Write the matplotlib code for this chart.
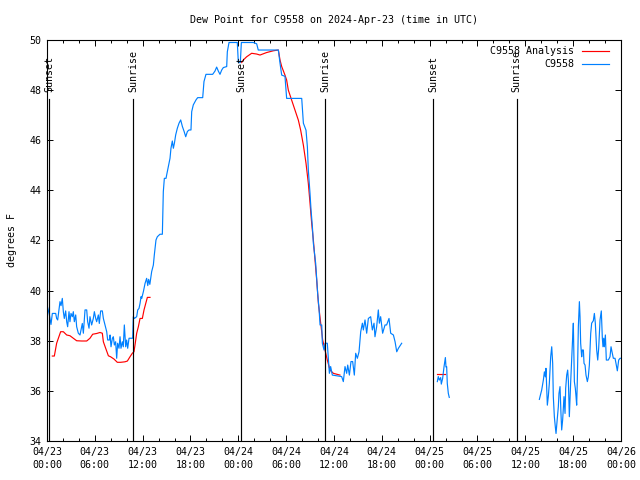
import numpy as np
import pandas as pd
import matplotlib
matplotlib.use("Agg")
from matplotlib import pyplot as plt
import matplotlib.dates as mdates

# hours after 2024-04-23 00:00 UTC, dew point in degrees F
obs1_h = [0.05, 0.29, 0.50, 0.67, 1.09, 1.21, 1.34, 1.50, 1.63, 1.76, 1.92, 2.05, 2.17, 2.34, 2.47, 2.59,
          2.76, 2.88, 3.01, 3.18, 3.30, 3.43, 3.60, 3.72, 3.93, 4.14, 4.27, 4.43, 4.56, 4.77, 4.98, 5.10,
          5.27, 5.39, 5.60, 5.81, 5.94, 6.11, 6.23, 6.44, 6.56, 6.73, 6.94, 7.07, 7.28, 7.49, 7.61, 7.82,
          7.91, 8.03, 8.20, 8.32, 8.45, 8.61, 8.74, 8.86, 9.03, 9.16, 9.28, 9.45, 9.57, 9.70, 9.87, 9.99,
          10.12, 10.29, 10.75, 10.83, 10.96, 11.25, 11.38, 11.54, 11.67, 11.80, 11.88, 12.09, 12.30, 12.50,
          12.64, 12.75, 12.90, 13.13, 13.34, 13.46, 13.67, 13.84, 14.17, 14.47, 14.59, 14.72, 14.93, 15.00,
          15.22, 15.43, 15.55, 15.72, 15.85, 15.98, 16.14, 16.35, 16.56, 16.77, 16.98, 17.20, 17.40, 17.61,
          17.82, 18.06, 18.15, 18.35, 18.69, 18.90, 19.53, 19.69, 19.94, 20.78, 21.07, 21.28, 21.49, 21.70,
          21.91, 22.12, 22.54, 22.62, 22.83, 23.87, 24.00, 24.25, 24.38, 25.88, 26.30, 26.50, 29.02, 29.23,
          29.44, 29.85, 30.06, 31.95, 32.16, 32.49, 32.66, 32.78, 32.99, 33.12, 33.29, 33.41, 33.53, 33.70,
          33.83, 33.95, 34.12, 34.25, 34.46, 34.54, 34.75, 34.87, 35.16, 35.29, 35.42, 35.58, 35.79, 36.96,
          37.17, 37.38, 37.59, 37.72, 37.93, 38.13, 38.34, 38.55, 38.72, 38.93, 39.14, 39.35, 39.56, 39.68,
          39.89, 40.10, 40.31, 40.60, 40.81, 41.02, 41.14, 41.35, 41.56, 41.69, 41.85, 42.10, 42.40, 42.60,
          42.90, 43.11, 43.45, 43.66, 43.87, 44.08, 44.29, 44.49]
obs1_v = [39.36, 39.05, 38.65, 39.09, 39.09, 38.89, 38.83, 39.23, 39.56, 39.40, 39.69, 39.16, 38.89, 39.19, 38.76, 38.56,
          39.16, 38.76, 39.09, 38.96, 39.16, 38.76, 39.03, 38.56, 38.30, 38.23, 38.43, 38.69, 38.30, 39.23, 39.23, 38.76,
          38.50, 38.96, 38.63, 38.89, 39.16, 38.89, 38.76, 39.03, 38.69, 39.19, 39.19, 38.89, 38.63, 38.36, 38.03, 38.03,
          38.23, 37.76, 38.10, 38.16, 37.83, 37.96, 37.30, 37.90, 37.70, 38.16, 37.70, 37.96, 37.76, 38.63, 37.76, 38.03,
          37.70, 38.10, 38.10, 38.96, 38.89, 38.96, 39.23, 39.29, 39.49, 39.76, 39.69, 39.96, 40.29, 40.49,
          40.20, 40.45, 40.25, 40.76, 41.02, 41.42, 42.02, 42.15, 42.25, 42.25, 43.95, 44.48, 44.48, 44.60,
          44.94, 45.28, 45.68, 45.97, 45.68, 45.88, 46.21, 46.48, 46.68, 46.81, 46.55, 46.35, 46.14, 46.35,
          46.41, 46.41, 47.14, 47.41, 47.61, 47.70, 47.70, 48.34, 48.63, 48.63, 48.76, 48.92, 48.76, 48.63,
          48.80, 48.90, 48.94, 49.53, 49.90, 49.90, 49.10, 49.10, 49.90, 49.90, 49.85, 49.60, 49.60, 49.07,
          48.60, 48.55, 47.67, 47.67, 46.68, 46.40, 45.74, 44.81, 43.88, 43.21, 42.55, 41.89, 41.55, 41.09,
          40.49, 39.89, 39.29, 38.63, 38.63, 37.90, 37.63, 37.90, 37.90, 37.30, 36.70, 36.97, 36.63, 36.57,
          36.37, 36.97, 36.70, 37.03, 36.63, 37.17, 37.17, 36.63, 37.50, 37.30, 37.56, 38.36, 38.70, 38.43,
          38.83, 38.30, 38.89, 38.96, 38.43, 38.70, 38.16, 38.56, 39.23, 38.70, 38.96, 38.30, 38.63, 38.63,
          38.89, 38.30, 38.23, 37.96, 37.56, 37.70, 37.80, 37.90]

obs2_h = [48.96, 49.08, 49.21, 49.38, 49.46, 49.63, 49.80, 49.97, 50.05, 50.13, 50.21, 50.34, 50.46]
obs2_v = [36.37, 36.57, 36.43, 36.53, 36.27, 36.50, 36.96, 37.33, 36.95, 36.97, 36.30, 35.90, 35.74]

obs3_h = [61.76, 61.92, 62.05, 62.26, 62.39, 62.51, 62.59, 62.76, 62.89, 63.01, 63.18, 63.31, 63.43, 63.51,
          63.64, 63.76, 63.85, 64.01, 64.14, 64.22, 64.35, 64.47, 64.56, 64.68, 64.85, 64.98, 65.06, 65.19,
          65.31, 65.40, 65.52, 65.69, 65.81, 65.94, 66.02, 66.15, 66.27, 66.36, 66.44, 66.52, 66.65, 66.78,
          66.86, 66.94, 67.07, 67.15, 67.28, 67.36, 67.49, 67.61, 67.78, 67.90, 68.03, 68.20, 68.32, 68.53,
          68.66, 68.78, 68.95, 69.08, 69.20, 69.37, 69.53, 69.66, 69.74, 69.83, 69.91, 70.04, 70.16, 70.41,
          70.62, 70.75, 70.87, 71.04, 71.25, 71.37, 71.54, 71.71, 71.88, 72.00]
obs3_v = [35.66, 35.87, 36.03, 36.43, 36.76, 36.56, 36.90, 35.43, 35.80, 36.30, 37.36, 37.76, 37.10, 35.77,
          34.97, 34.57, 34.30, 34.90, 35.37, 35.90, 36.17, 35.10, 34.44, 34.84, 35.77, 35.10, 36.10, 36.63,
          36.83, 36.40, 34.97, 36.37, 37.23, 38.16, 38.70, 36.37, 36.10, 35.77, 35.43, 36.40, 38.56, 39.56,
          38.96, 37.90, 37.36, 37.63, 37.63, 37.10, 37.03, 36.63, 36.37, 36.56, 37.03, 38.29, 38.70, 38.80,
          39.09, 38.70, 37.63, 37.23, 37.70, 38.83, 39.19, 38.10, 37.76, 38.10, 37.76, 38.23, 37.23, 37.23,
          37.36, 37.76, 37.56, 37.30, 37.30, 37.10, 36.80, 37.23, 37.30, 37.30]

ana1_h = [0.67, 0.92, 1.21, 1.71, 2.05, 2.47, 2.88, 3.30, 3.72, 4.35, 4.98, 5.39, 5.73, 6.23, 6.65, 6.94,
          7.07, 7.36, 7.70, 7.98, 8.40, 8.82, 9.24, 9.78, 10.08, 10.41, 10.70, 10.91, 11.04, 11.25, 11.46,
          11.67, 11.96, 12.17, 12.42, 12.59, 12.92]
ana1_v = [37.39, 37.39, 37.90, 38.36, 38.36, 38.23, 38.20, 38.10, 38.00, 37.99, 37.99, 38.10, 38.26, 38.29, 38.33, 38.30,
          37.96, 37.70, 37.40, 37.36, 37.27, 37.14, 37.14, 37.16, 37.19, 37.36, 37.50, 37.56, 37.83, 38.30, 38.56,
          38.89, 38.89, 39.23, 39.53, 39.73, 39.73]

ana2_h = [24.42, 24.62, 25.04, 25.67, 26.30, 26.72, 27.55, 28.39, 29.02, 29.23, 29.44, 29.85, 30.06, 30.27,
          30.69, 31.11, 31.53, 31.82, 32.16, 32.49, 32.78, 32.99, 33.20, 33.41, 33.62, 33.83, 34.04, 34.33,
          34.58, 34.87, 35.16, 35.50, 35.92, 36.75]
ana2_v = [49.10, 49.20, 49.33, 49.47, 49.44, 49.40, 49.50, 49.57, 49.60, 49.20, 48.94, 48.60, 48.40, 48.00,
          47.60, 47.20, 46.80, 46.40, 45.80, 45.08, 44.28, 43.50, 42.69, 42.02, 41.22, 40.42, 39.50, 38.70,
          38.03, 37.63, 37.23, 36.83, 36.70, 36.63]

ana3_h = [48.96, 49.92]
ana3_v = [36.66, 36.66]

sun_h = [0.25, 10.83, 24.33, 34.87, 48.46, 58.92]
sun_names = ["Sunset", "Sunrise", "Sunset", "Sunrise", "Sunset", "Sunrise"]

start = pd.Timestamp("2024-04-23 00:00")


def to_time(hours):
    return start + pd.to_timedelta(np.array(hours), unit="h")


fs = 7.2
plt.rcParams['font.family'] = ['DejaVu Sans Mono']
plt.rcParams['font.size'] = fs

fig = plt.figure(figsize=(6.4, 4.8), dpi=100)
ax = fig.add_axes([47 / 640, 1 - 441 / 480, 574 / 640, 401 / 480])

red = "#ff0000"
blue = "#0080ff"
lw = 0.85

ax.plot(to_time(ana1_h), ana1_v, color=red, lw=lw, label="C9558 Analysis")
ax.plot(to_time(ana2_h), ana2_v, color=red, lw=lw)
ax.plot(to_time(ana3_h), ana3_v, color=red, lw=lw)
ax.plot(to_time(obs1_h), obs1_v, color=blue, lw=lw, label="C9558")
ax.plot(to_time(obs2_h), obs2_v, color=blue, lw=lw)
ax.plot(to_time(obs3_h), obs3_v, color=blue, lw=lw)

for t, name in zip(to_time(sun_h), sun_names):
    ax.plot([t, t], [34, 47.65], color="black", lw=0.85)
    ax.text(t, 47.92, name, rotation=90, ha="center", va="bottom", fontsize=fs)

ax.set_xlim(start, start + pd.Timedelta(hours=72))
ax.set_ylim(34, 50)
ax.set_yticks(np.arange(34, 51, 2))
ax.xaxis.set_major_locator(mdates.HourLocator(byhour=[0, 6, 12, 18]))
ax.xaxis.set_minor_locator(mdates.HourLocator(byhour=range(0, 24, 2)))
ax.xaxis.set_major_formatter(mdates.DateFormatter("%m/%d\n%H:%M"))
ax.tick_params(which="both", direction="in", top=True, right=True, width=0.7, pad=4, labelsize=fs)
ax.tick_params(which="major", length=4)
ax.tick_params(which="minor", length=2.2)
for lab in ax.get_xticklabels():
    lab.set_linespacing(1.45)
for s in ax.spines.values():
    s.set_linewidth(0.8)

ax.set_title("Dew Point for C9558 on 2024-Apr-23 (time in UTC)", fontsize=fs, pad=12)
ax.set_ylabel("degrees F", fontsize=fs, labelpad=9)

ax.legend(loc="upper right", bbox_to_anchor=(0.986, 0.995), borderaxespad=0.0, frameon=False,
          markerfirst=False, handlelength=2.7, handletextpad=0.8, labelspacing=0.3, fontsize=fs)

fig.savefig("out.png", dpi=100)
